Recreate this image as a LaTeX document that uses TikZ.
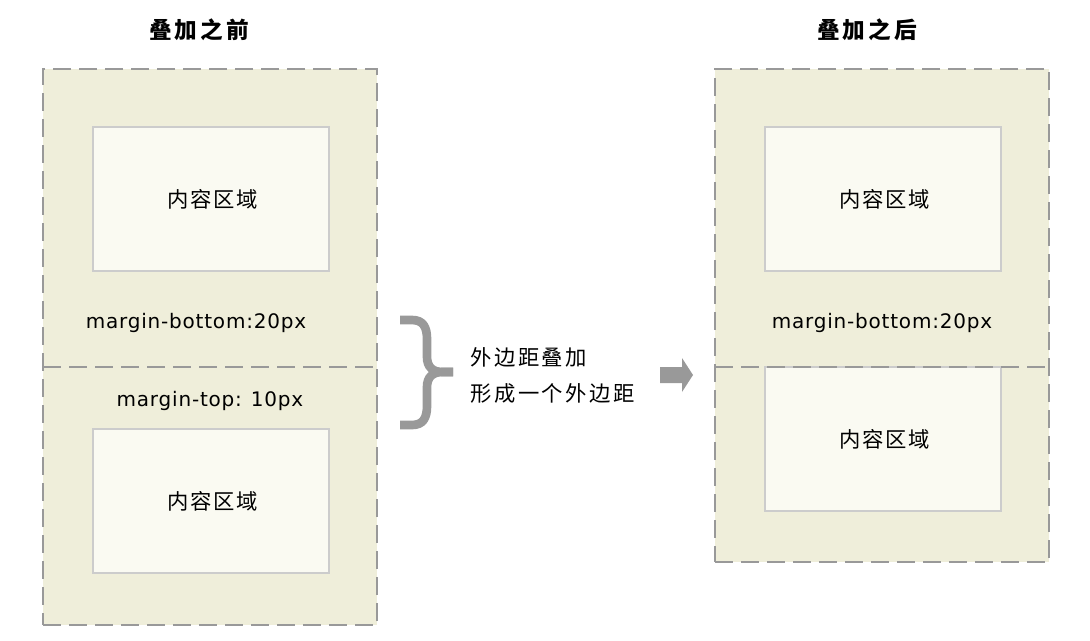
\documentclass[tikz,border=0pt]{standalone}
\usepackage{fontspec}
\setmainfont{DejaVu Sans}
\newfontfamily\latinwide[LetterSpace=4]{DejaVu Sans}
\newfontfamily\cjktitle[LetterSpace=13]{Noto Sans CJK SC}
\newfontfamily\cjkbox[LetterSpace=8]{Noto Sans CJK SC}
\newfontfamily\cjkside[LetterSpace=12]{Noto Sans CJK SC}
\definecolor{outerfill}{HTML}{EFEEDA}
\definecolor{innerfill}{HTML}{FAFAF2}
\definecolor{innerline}{HTML}{CCCCCC}
\definecolor{dashgray}{HTML}{999999}
\definecolor{markgray}{HTML}{999999}
\tikzset{
  outerbox/.style={draw=dashgray, line width=1.5pt, dash pattern=on 13.5pt off 6pt, fill=outerfill, inner sep=0pt},
  divider/.style={draw=dashgray, line width=1.5pt, dash pattern=on 13.5pt off 6pt},
  innerbox/.style={draw=innerline, line width=1.2pt, fill=innerfill, minimum width=177pt, minimum height=108pt, inner sep=0pt},
  boxtext/.style={font=\cjkbox\fontsize{16}{19}\selectfont, inner sep=0pt},
  title/.style={font=\cjktitle\bfseries\fontsize{17}{20}\selectfont},
  marginlabel/.style={font=\latinwide\fontsize{15}{18}\selectfont},
  sidelabel/.style={font=\cjkside\fontsize{16}{19}\selectfont, anchor=west, inner sep=0pt},
  bracestroke/.style={draw=markgray, line width=6.5pt},
}
\begin{document}
\begin{tikzpicture}[x=0.75pt, y=-0.75pt]
\useasboundingbox (0,0) rectangle (1090,640);
\fill[white] (0,0) rectangle (1090,640);

% titles
\node[title] (t1) at (199,30) {叠加之前};
\node[title] (t2) at (867,30) {叠加之后};

% left outer box
\node[outerbox, minimum width=250.5pt, minimum height=417pt] (L) at (210,347) {};
\node[innerbox] (lt) at (211,199) {};
\node[innerbox] (lb) at (211,501) {};
\node[boxtext] (ltt) at (lt.center) {\hspace{2pt}内容区域};
\node[boxtext] (lbt) at (lb.center) {\hspace{2pt}内容区域};
\coordinate (ld1) at (43,367);
\coordinate (ld2) at (377,367);
\draw[divider] (ld1) -- (ld2);
\node[marginlabel] (lmb) at (196,323) {margin-bottom:20px};
\node[marginlabel] (lmt) at (210,401) {margin-top:\hspace{0.45em}10px};

% right outer box
\node[outerbox, minimum width=250.5pt, minimum height=369.75pt] (R) at (882,315.5) {};
\node[innerbox] (rt) at (883,199) {};
\node[innerbox] (rb) at (883,439) {};
\node[boxtext] (rtt) at (rt.center) {\hspace{2pt}内容区域};
\node[boxtext] (rbt) at (rb.center) {\hspace{2pt}内容区域};
\coordinate (rd1) at (715,367);
\coordinate (rd2) at (1049,367);
\draw[divider] (rd1) -- (rd2);
\node[marginlabel] (rmb) at (882,323) {margin-bottom:20px};

% brace
\draw[bracestroke] (400,320) -- (412,320) .. controls (423,320) and (427,327) .. (427,339)
  -- (427,357) .. controls (427,367) and (433,372) .. (442,372) -- (453,372);
\draw[bracestroke] (453,372) -- (442,372) .. controls (433,372) and (427,377) .. (427,387)
  -- (427,406) .. controls (427,418) and (423,425) .. (412,425) -- (400,425);

% side text
\node[sidelabel] (s1) at (470,357) {外边距叠加};
\node[sidelabel] (s2) at (470,393) {形成一个外边距};

% arrow
\fill[markgray] (660,367) -- (682,367) -- (682,358) -- (693,375) -- (682,392) -- (682,383) -- (660,383) -- cycle;
\end{tikzpicture}
\end{document}
